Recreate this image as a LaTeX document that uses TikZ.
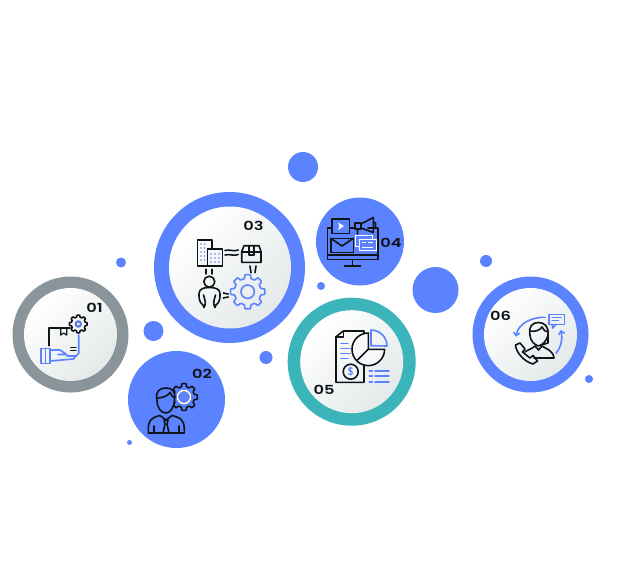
\documentclass[tikz,border=0pt]{standalone}
\usepackage{fontspec}
\newfontfamily\numfont[FakeStretch=1.3]{Poppins SemiBold}
\usetikzlibrary{arrows.meta, positioning}

\definecolor{bluedisc}{HTML}{5B82FF}
\definecolor{greyring}{HTML}{89959A}
\definecolor{tealring}{HTML}{3BB5BA}
\definecolor{faceend}{HTML}{E4E9EA}
\definecolor{inkblack}{HTML}{101418}

\tikzset{
  disc/.style={circle, fill=#1, inner sep=0pt},
  face/.style={circle, top color=white, bottom color=faceend, shading angle=45, inner sep=0pt},
  num/.style={font=\numfont\fontsize{12.5}{12.5}\selectfont, text=inkblack, inner sep=0pt},
  ink/.style={draw=inkblack, line width=1.6pt, line join=round, line cap=round},
  inkb/.style={draw=bluedisc, line width=1.6pt, line join=round, line cap=round}
}

% gear outline: x, y, outer radius, inner radius, style
\newcommand{\gearat}[5]{
  \begin{scope}[shift={(#1,#2)}]
    \pgfmathsetmacro{\gearrt}{0.78*#3}
    \draw[#5, rounded corners=0.5pt] (-14:\gearrt) \foreach \a in {0,45,...,315}{
      -- (\a-14:\gearrt) -- (\a-9:#3) -- (\a+9:#3) -- (\a+14:\gearrt)
    } -- cycle;
    \draw[#5] (0,0) circle (#4);
  \end{scope}
}

\begin{document}
\begin{tikzpicture}[x=1pt, y=-1pt]
  \useasboundingbox (0,0) rectangle (636,578);
  \fill[white] (0,0) rectangle (636,578);

  % Small dots
  \node[disc=bluedisc, minimum size=30pt] (d1) at (303,167) {};
  \node[disc=bluedisc, minimum size=10pt] (d2) at (121,262.5) {};
  \node[disc=bluedisc, minimum size=20pt] (d3) at (153.5,331) {};
  \node[disc=bluedisc, minimum size=5pt] (d4) at (129.5,442.5) {};
  \node[disc=bluedisc, minimum size=13pt] (d5) at (266,357.5) {};
  \node[disc=bluedisc, minimum size=8pt] (d6) at (321,286) {};
  \node[disc=bluedisc, minimum size=46pt] (d7) at (435.5,290) {};
  \node[disc=bluedisc, minimum size=12pt] (d8) at (486,261) {};
  \node[disc=bluedisc, minimum size=8pt] (d9) at (589,379) {};

  % Rings and discs
  \node[disc=greyring, minimum size=116pt] (r1) at (70.5,334.5) {};
  \node[face, minimum size=93pt] (f1) at (70.5,334.5) {};
  \node[disc=bluedisc, minimum size=97pt] (r2) at (176.5,399.5) {};
  \node[disc=bluedisc, minimum size=151pt] (r3) at (229.5,267.5) {};
  \node[face, minimum size=122pt] (f3) at (230,267.5) {};
  \node[disc=bluedisc, minimum size=88pt] (r4) at (360,241.5) {};
  \node[disc=tealring, minimum size=128pt] (r5) at (351.7,361.7) {};
  \node[face, minimum size=103pt] (f5) at (351.7,361.7) {};
  \node[disc=bluedisc, minimum size=116pt] (r6) at (530.5,334.5) {};
  \node[face, minimum size=93pt] (f6) at (530.5,334.5) {};

  % Numbers
  \node[num] (n1) at (94.5,307.5) {01};
  \node[num] (n2) at (202,373.5) {02};
  \node[num] (n3) at (253.5,225.5) {03};
  \node[num] (n4) at (391,243) {04};
  \node[num] (n5) at (324,390) {05};
  \node[num] (n6) at (500.5,316) {06};

  % Icon 01: parcel on a hand
  \draw[ink] (48.7,345.7) -- (48.7,327.7) -- (70,327.7);
  \draw[ink, line width=1.2pt] (60.7,327.7) -- (60.7,335) -- (63.7,333) -- (66.7,335) -- (66.7,327.7);
  \gearat{78.3}{324}{9}{2.7}{ink}
  \draw[inkb] (78.3,324) circle (2.7);
  \draw[inkb] (78.7,335) -- (78.7,353.3) -- (76,356) -- (67,356);
  \draw[inkb] (40.7,348.3) rectangle (50,363.3);
  \draw[inkb] (45.3,348.3) -- (45.3,363.3);
  \draw[inkb] (50,350) -- (60,350) -- (66.7,354.5) -- (58,354.5);
  \draw[inkb] (76,356) -- (73.5,359) -- (50,361);
  \draw[ink, line width=1.2pt] (70.7,347.7) -- (76,347.7) (70.7,350.7) -- (76,350.7);

  % Icon 02: person with gear
  \gearat{184}{397}{13.5}{6.5}{ink}
  \draw[draw=white, line width=1.6pt] (184,397) circle (6.5);
  \draw[ink, fill=bluedisc] (157,400) .. controls (155,391) and (160,388) .. (166,388) .. controls (172,388) and (176,391) .. (174.5,400)
    .. controls (174,408) and (170,413) .. (166,413) .. controls (161,413) and (157,408) .. (157,400) -- cycle;
  \draw[ink] (157,398) .. controls (162,398) and (168,396) .. (170,392.5) .. controls (171,395) and (173,397) .. (174.5,398);
  \draw[ink, fill=bluedisc] (148.3,430) .. controls (148.3,421) and (150,418) .. (160,415.5) -- (166,420) -- (172,415.5)
    .. controls (182,418) and (184.3,421) .. (184.3,430) -- (184.3,433) -- (148.3,433) -- cycle;
  \draw[ink] (164,420) -- (168,420) -- (167,424) -- (169,433) -- (163,433) -- (165,424) -- cycle;
  \draw[ink] (154,433) -- (154,426) (179,433) -- (179,426);

  % Icon 03: building, parcel, person and gear
  \draw[ink] (207.3,266) -- (197.3,266) -- (197.3,240) -- (212,240) -- (212,249);
  \draw[ink] (207.3,249) rectangle (222.3,266);
  \foreach \wx in {201,204.5}
    \foreach \wy in {244,248,252,256,260}
      \fill[bluedisc] (\wx,\wy) circle (0.8);
  \foreach \wx in {211,215,219}
    \foreach \wy in {254,258,262}
      \fill[bluedisc] (\wx,\wy) circle (0.9);
  \draw[ink] (225,250.5) .. controls (229,249) and (234,252) .. (238.3,250);
  \draw[ink] (225,255) .. controls (229,253.5) and (234,256.5) .. (238.3,254.5);
  \draw[ink] (241.7,251.7) -- (244,245.7) -- (259,245.7) -- (261,251.7) -- (261,262.3) -- (241.7,262.3) -- cycle;
  \draw[ink] (241.7,251.7) -- (261,251.7);
  \draw[ink] (249,245.7) -- (249,255) -- (254,255) -- (254,245.7);
  \draw[ink] (250,266) -- (251,272.7) (256,266) -- (255,272.7);
  \draw[ink] (206,269.3) -- (206,274) (211.7,269.3) -- (211.7,274);
  \draw[ink] (209.3,281.7) circle (5.5);
  \draw[ink] (203,305) .. controls (199,302) and (199,298) .. (199,294) .. controls (199,289) and (203,287.5) .. (209.3,287.5)
    .. controls (216,287.5) and (220,289) .. (220,294) .. controls (220,298) and (220,302) .. (216,305);
  \draw[ink] (203,305) -- (204,307.5) -- (205,305) .. controls (206,301) and (204,298) .. (203.5,295);
  \draw[ink] (216,305) -- (215,307.5) -- (214,305) .. controls (213,301) and (215,298) .. (215.5,295);
  \draw[ink] (223.3,293) -- (228.3,294) (223.3,298) -- (228.3,297);
  \gearat{247.7}{291.7}{17.3}{6.7}{inkb}

  % Icon 04: monitor with mail, video and megaphone
  \draw[ink] (327.3,255) -- (327.3,227.7) -- (331.7,227.7) (349.3,227.7) -- (355,227.7) (368,227.7) -- (377.7,227.7)
    -- (377.7,259.3) -- (327.3,259.3) -- (327.3,255) -- (377.7,255);
  \draw[ink] (352.3,259.3) -- (352.3,265);
  \draw[ink] (344.5,266) -- (360.5,266);
  \draw[ink, fill=bluedisc] (331.7,219) rectangle (349.3,233.3);
  \fill[white] (338,222.5) -- (344,226) -- (338,230) -- (339.5,226) -- cycle;
  \draw[ink] (361,224) -- (373.3,217.5) -- (373.3,232.5) -- (361,228) -- cycle;
  \draw[ink] (355,223) rectangle (361,229);
  \draw[ink] (357.5,229) -- (357.5,234) (373.3,222) -- (375.5,223) -- (375.5,227) -- (373.3,228);
  \draw[ink] (330.7,238.3) rectangle (353.3,252.3);
  \draw[ink] (330.7,238.3) -- (342,246) -- (353.3,238.3);
  \draw[white, line width=1pt, fill=bluedisc] (355.7,235.7) rectangle (372.7,246.7);
  \draw[white, line width=1pt, fill=bluedisc] (359,239) rectangle (376,250.7);
  \draw[white, line width=1pt] (362,242.5) -- (366,242.5) (362,247) -- (373,247) (368,242.5) -- (373,242.5);

  % Icon 05: invoice with charts
  \draw[ink] (336,336.7) -- (343.3,331) -- (364,331) -- (364,382.3) -- (336,382.3) -- cycle;
  \draw[ink] (336,336.7) -- (343.3,336.7) -- (343.3,331);
  \foreach \ly/\lx in {343.3/348, 348.3/350, 353.3/350, 358.3/348}
    \draw[inkb] (341,\ly) -- (\lx,\ly);
  \draw[ink, fill=faceend!40] (350.7,371.7) circle (7.5);
  \node[text=bluedisc, inner sep=0pt, font=\sffamily\bfseries\fontsize{11}{11}\selectfont] (dollar) at (350.7,371.7) {\$};
  \draw[ink, fill=white!70!faceend] (368.3,349.3) -- (368.3,333) arc (-90:-360:16.3) -- cycle;
  \draw[ink] (368.3,349.3) -- (357,360.5);
  \draw[inkb] (371,345.7) -- (371,330) arc (-90:0:16) -- cycle;
  \foreach \ly in {371,376,381.7} {
    \draw[inkb] (369.3,\ly) -- (372.3,\ly);
    \draw[inkb] (375,\ly) -- (389,\ly);
  }

  % Icon 06: call agent
  \draw[ink] (530,335) .. controls (528,326) and (533,322.5) .. (538.5,322.5) .. controls (544,322.5) and (549,326) .. (548,335);
  \draw[ink] (530,335) .. controls (530,340) and (534,345) .. (538.5,346) .. controls (543,345) and (547,340) .. (548,335);
  \draw[ink] (530,331) .. controls (536,332) and (540,330) .. (542,327) .. controls (543,330) and (546,332) .. (548,332);
  \draw[ink] (548,335) -- (548,343) -- (541,345);
  \draw[ink] (525,352) .. controls (527,350) and (532,349) .. (535,346) -- (538.5,350) -- (542,346) .. controls (546,349) and (553,350) .. (554,358) -- (534,358);
  \draw[ink] (515.5,345) -- (520,343) -- (525,349) -- (522.5,352) -- (530,358) -- (533,355.5) -- (537.5,361) -- (533,364) .. controls (525,362) and (516,353) .. (515.5,345) -- cycle;
  \draw[inkb] (549,314.3) rectangle (564.3,324.3);
  \draw[inkb] (552,324.3) -- (552.7,328) -- (556,324.3);
  \draw[inkb, line width=1.1pt] (552,317.5) -- (561,317.5) (552,320.5) -- (558.5,320.5);
  \draw[inkb, -{Straight Barb[length=3pt, width=6pt]}] (545,317.3) .. controls (531,317) and (518,324) .. (516,336.7);
  \draw[inkb, -{Straight Barb[length=3pt, width=6pt]}] (556,353.3) .. controls (561,347) and (563,339) .. (560.7,330);
\end{tikzpicture}
\end{document}
